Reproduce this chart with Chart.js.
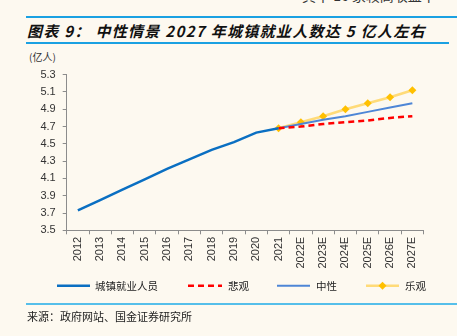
<!DOCTYPE html>
<html>
<head>
<meta charset="utf-8">
<script src="https://cdn.jsdelivr.net/npm/chart.js@4/dist/chart.umd.min.js"></script>
<style>
  html, body { margin: 0; padding: 0; background: #FDF9F0; }
  #wrap { position: relative; width: 457px; height: 336px; overflow: hidden; background: #FDF9F0; }
  #chart { position: absolute; left: 0; top: 0; }
  .txt { position: absolute; white-space: nowrap; font-family: "Noto Sans CJK SC", sans-serif; color: #222; }
  .hr { position: absolute; }
</style>
</head>
<body>
<div id="wrap">
  <div class="txt" style="left:302px; top:-15px; font-size:14px; color:#333;">其中 16 家较高收益率</div>
  <div class="hr" style="left:26px; top:16px; width:431px; height:1.5px; background:#1BA1E2;"></div>
  <div class="txt" style="left:27px; top:20px; font-size:15px; font-weight:bold; font-style:italic; letter-spacing:1.3px; color:#111;">图表 9： 中性情景 2027 年城镇就业人数达 5 亿人左右</div>
  <div class="hr" style="left:26px; top:42px; width:423px; height:1.5px; background:#1BA1E2;"></div>
  <div class="txt" style="left:29px; top:49px; font-size:10px; color:#333;">(亿人)</div>
  <canvas id="chart" width="457" height="336"></canvas>
  <div class="hr" style="left:26px; top:303px; width:431px; height:2px; background:#56BFEA;"></div>
  <div class="txt" style="left:27px; top:308px; font-size:11px; color:#222;">来源：政府网站、国金证券研究所</div>
</div>
<script>
// Years on the category axis
const years = ['2012','2013','2014','2015','2016','2017','2018','2019','2020','2021',
               '2022E','2023E','2024E','2025E','2026E','2027E'];
// Urban employment, 100 million persons (actual)
const urbanEmployed = [3.73, 3.85, 3.97, 4.09, 4.21, 4.32, 4.43, 4.52, 4.63, 4.68,
                       null, null, null, null, null, null];
// Scenario projections, starting from 2021
const pessimistic = [null, null, null, null, null, null, null, null, null, 4.68,
                     4.70, 4.73, 4.75, 4.77, 4.80, 4.82];
const neutral = [null, null, null, null, null, null, null, null, null, 4.68,
                 4.73, 4.78, 4.82, 4.87, 4.92, 4.97];
const optimistic = [null, null, null, null, null, null, null, null, null, 4.68,
                    4.75, 4.82, 4.90, 4.97, 5.04, 5.12];
const seriesNames = ['城镇就业人员', '悲观', '中性', '乐观'];
const yTicks = [3.5, 3.7, 3.9, 4.1, 4.3, 4.5, 4.7, 4.9, 5.1, 5.3];

const AXIS = '#8C8C8C';
const TXT = '#333333';

// Legend row drawn under the axis
const legendRow = {
  id: 'legendRow',
  afterDraw(chart) {
    const ctx = chart.ctx;
    const y = 285.7;
    const slots = [
      { x0: 57, x1: 90, tx: 95 },
      { x0: 188, x1: 222, tx: 228 },
      { x0: 277, x1: 310, tx: 316 },
      { x0: 366, x1: 399, tx: 405 }
    ];
    ctx.save();
    chart.data.datasets.forEach((ds, i) => {
      const s = slots[i];
      ctx.beginPath();
      ctx.strokeStyle = ds.borderColor;
      ctx.lineWidth = Math.min(ds.borderWidth, 2.5);
      ctx.setLineDash(ds.borderDash || []);
      ctx.moveTo(s.x0, y);
      ctx.lineTo(s.x1, y);
      ctx.stroke();
      ctx.setLineDash([]);
      if (ds.pointRadius > 0) {
        const m = (s.x0 + s.x1) / 2;
        const r = ds.pointRadius;
        ctx.beginPath();
        ctx.fillStyle = ds.pointBackgroundColor;
        ctx.moveTo(m, y - r); ctx.lineTo(m + r, y); ctx.lineTo(m, y + r); ctx.lineTo(m - r, y);
        ctx.closePath();
        ctx.fill();
      }
      ctx.fillStyle = '#222';
      ctx.font = '10.5px "Noto Sans CJK SC", sans-serif';
      ctx.textBaseline = 'middle';
      ctx.textAlign = 'left';
      ctx.fillText(ds.label, s.tx, y);
    });
    ctx.restore();
  }
};

new Chart(document.getElementById('chart'), {
  type: 'line',
  data: {
    labels: years,
    datasets: [
      { label: seriesNames[0], data: urbanEmployed, borderColor: '#0A6FC2', borderWidth: 2.5,
        pointRadius: 0, tension: 0 },
      { label: seriesNames[1], data: pessimistic, borderColor: '#FF0000', borderWidth: 2.5,
        borderDash: [6, 4], pointRadius: 0, tension: 0 },
      { label: seriesNames[2], data: neutral, borderColor: '#4E86D6', borderWidth: 2,
        pointRadius: 0, tension: 0 },
      { label: seriesNames[3], data: optimistic, borderColor: 'rgba(255,208,80,0.75)', borderWidth: 2.5,
        pointRadius: 4, pointStyle: 'rectRot', pointBackgroundColor: '#FFC000',
        pointBorderColor: '#FFC000', pointBorderWidth: 0, tension: 0 }
    ]
  },
  options: {
    responsive: false,
    animation: false,
    devicePixelRatio: 1,
    layout: { padding: { left: 0, top: 74.7, right: 33.5, bottom: 45.7 } },
    plugins: { legend: { display: false }, tooltip: { enabled: false } },
    scales: {
      x: {
        offset: true,
        grid: { display: true, offset: true, drawOnChartArea: false, drawTicks: true,
                tickLength: 4, color: AXIS },
        border: { display: true, color: AXIS, width: 1 },
        ticks: { minRotation: 90, maxRotation: 90, autoSkip: false, padding: 2.5,
                 color: TXT, font: { family: '"Liberation Sans", Arial, sans-serif', size: 11 } },
        afterFit(scale) { scale.height = 60; }
      },
      y: {
        min: 3.5, max: 5.3,
        afterBuildTicks(scale) { scale.ticks = yTicks.map(v => ({ value: v })); },
        grid: { display: true, drawOnChartArea: false, drawTicks: true, tickLength: 4, color: AXIS },
        border: { display: true, color: AXIS, width: 1 },
        ticks: { padding: 7, color: TXT, callback: v => Number(v).toFixed(1),
                 font: { family: '"Liberation Sans", Arial, sans-serif', size: 11 } },
        afterFit(scale) { scale.width = 66.7; }
      }
    }
  },
  plugins: [legendRow]
});
</script>
</body>
</html>
